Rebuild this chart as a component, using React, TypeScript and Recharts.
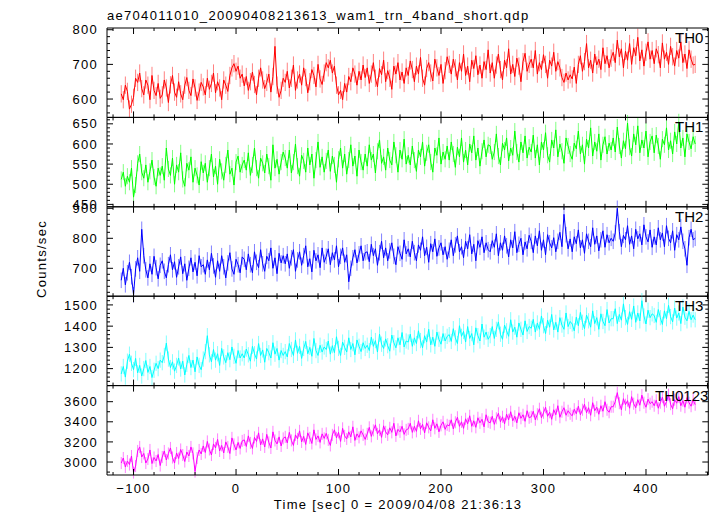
import React from "react";
import { LineChart, Line, XAxis, YAxis, ErrorBar, ReferenceLine } from "recharts";

// light curve bins: start time and bin width (sec)
const T_START = -112;
const BIN = 2;

const th0 = [
  615, 598, 640, 622, 571, 585, 605, 660, 648, 675, 630, 612, 655, 640, 598, 668, 625, 610, 645, 602,
  612, 655, 632, 590, 641, 668, 620, 605, 650, 615, 598, 640, 662, 625, 610, 658, 632, 596, 620, 648,
  635, 612, 660, 628, 645, 675, 618, 650, 632, 598, 655, 640, 622, 668, 690, 702, 680, 695, 660, 672,
  638, 665, 625, 650, 678, 642, 612, 660, 690, 655, 630, 648, 672, 620, 665, 752, 640, 605, 625, 660,
  648, 680, 632, 660, 698, 625, 655, 672, 640, 690, 662, 618, 650, 685, 668, 635, 700, 658, 642, 675,
  705, 690, 712, 675, 695, 640, 612, 625, 598, 645, 620, 665, 650, 690, 672, 640, 680, 655, 698, 662,
  690, 645, 672, 705, 660, 635, 688, 670, 712, 650, 682, 660, 628, 695, 672, 705, 655, 678, 645, 690,
  668, 710, 685, 650, 695, 672, 720, 660, 640, 688, 705, 675, 652, 715, 690, 668, 700, 645, 682, 722,
  700, 672, 715, 690, 655, 705, 680, 730, 668, 695, 650, 712, 688, 725, 670, 698, 660, 708, 685, 742,
  675, 705, 660, 698, 730, 685, 655, 712, 690, 745, 672, 700, 665, 718, 695, 650, 708, 732, 680, 700,
  715, 690, 740, 672, 705, 685, 728, 700, 660, 712, 695, 735, 680, 708, 690, 662, 648, 675, 655, 670,
  658, 692, 645, 700, 725, 680, 708, 760, 690, 712, 675, 730, 698, 715, 685, 748, 702, 725, 690, 718,
  735, 705, 770, 722, 745, 690, 738, 712, 760, 700, 748, 725, 778, 710, 742, 695, 735, 765, 715, 740,
  702, 745, 728, 690, 762, 715, 735, 700, 752, 722, 695, 740, 718, 765, 705, 730, 688, 742, 715, 698,
  700,
];

const th1 = [
  512, 530, 495, 520, 505, 540, 468, 498, 552, 575, 530, 515, 548, 505, 532, 560, 518, 495, 540, 522,
  545, 510, 590, 538, 522, 565, 500, 548, 530, 578, 512, 495, 552, 535, 568, 505, 540, 522, 498, 556,
  528, 552, 505, 540, 575, 518, 545, 500, 562, 532, 510, 548, 585, 525, 540, 498, 555, 570, 530, 548,
  560, 535, 578, 522, 548, 590, 540, 515, 565, 552, 528, 575, 545, 510, 598, 540, 562, 525, 555, 580,
  565, 540, 585, 528, 555, 600, 545, 520, 572, 558, 530, 590, 548, 575, 515, 560, 605, 542, 568, 530,
  558, 585, 532, 570, 548, 505, 562, 590, 540, 575, 525, 560, 598, 545, 570, 520, 585, 555, 535, 575,
  545, 598, 560, 575, 528, 582, 610, 552, 568, 535, 590, 560, 548, 605, 572, 530, 585, 562, 612, 550,
  572, 548, 595, 560, 532, 585, 568, 605, 545, 578, 598, 555, 530, 590, 572, 615, 550, 580, 562, 595,
  560, 605, 575, 542, 592, 568, 615, 555, 585, 548, 600, 578, 620, 560, 590, 545, 582, 610, 568, 598,
  595, 562, 580, 625, 570, 548, 602, 585, 615, 558, 590, 572, 632, 580, 555, 605, 578, 620, 565, 592,
  580, 622, 565, 598, 548, 605, 585, 628, 572, 555, 610, 590, 635, 568, 600, 582, 552, 615, 595, 575,
  562, 602, 588, 632, 575, 598, 550, 612, 590, 640, 570, 605, 582, 625, 560, 598, 618, 575, 602, 585,
  615, 580, 642, 595, 565, 608, 588, 652, 592, 570, 625, 598, 645, 578, 610, 590, 632, 568, 605, 620,
  578, 622, 595, 562, 612, 598, 640, 585, 608, 575, 630, 600, 655, 590, 615, 568, 625, 605, 588, 618,
  600,
];

const th2 = [
  660, 700, 645, 685, 720, 672, 612, 698, 735, 690, 830, 742, 695, 668, 715, 680, 740, 702, 665, 710,
  725, 690, 668, 712, 745, 695, 722, 670, 705, 738, 682, 715, 660, 700, 735, 688, 720, 675, 742, 705,
  712, 680, 728, 695, 750, 708, 670, 725, 690, 742, 705, 668, 718, 752, 698, 680, 730, 712, 685, 738,
  730, 695, 748, 712, 685, 755, 720, 702, 762, 715, 690, 740, 725, 768, 700, 735, 682, 750, 718, 742,
  715, 748, 700, 735, 762, 690, 728, 755, 710, 742, 775, 705, 732, 688, 760, 725, 745, 702, 768, 720,
  740, 765, 712, 752, 728, 775, 705, 740, 768, 720, 745, 655, 700, 735, 762, 718, 748, 775, 725, 752,
  755, 722, 780, 742, 765, 710, 752, 790, 735, 768, 725, 758, 785, 740, 712, 772, 750, 730, 795, 748,
  765, 738, 790, 752, 725, 778, 760, 805, 742, 770, 720, 782, 755, 798, 740, 768, 785, 745, 772, 730,
  760, 795, 742, 778, 808, 755, 772, 735, 790, 765, 812, 748, 780, 725, 792, 770, 805, 752, 785, 762,
  755, 792, 770, 815, 742, 785, 760, 808, 775, 738, 795, 768, 822, 752, 780, 800, 745, 788, 765, 810,
  790, 752, 808, 775, 825, 760, 795, 745, 812, 785, 768, 802, 755, 790, 820, 772, 880, 812, 765, 798,
  755, 805, 782, 828, 768, 795, 750, 815, 790, 772, 835, 780, 808, 758, 795, 825, 770, 812, 785, 800,
  790, 818, 900, 822, 772, 810, 795, 842, 780, 808, 765, 830, 798, 815, 778, 845, 805, 788, 828, 770,
  805, 778, 835, 795, 818, 772, 842, 800, 785, 825, 760, 812, 795, 838, 790, 765, 710, 802, 830, 795,
  800,
];

const th3 = [
  1175, 1210, 1160, 1235, 1268, 1225, 1195, 1248, 1180, 1215, 1165, 1200, 1238, 1182, 1210, 1158, 1192, 1225, 1200, 1240,
  1228, 1262, 1320, 1245, 1205, 1232, 1188, 1215, 1250, 1198, 1235, 1170, 1220, 1262, 1205, 1240, 1185, 1255, 1215, 1195,
  1245, 1280, 1355, 1265, 1232, 1290, 1240, 1270, 1215, 1295, 1255, 1228, 1275, 1242, 1302, 1258, 1225, 1285, 1250, 1270,
  1250, 1292, 1265, 1235, 1305, 1270, 1245, 1318, 1262, 1288, 1230, 1295, 1275, 1250, 1322, 1268, 1295, 1240, 1285, 1262,
  1280, 1255, 1318, 1290, 1262, 1335, 1272, 1305, 1248, 1295, 1328, 1270, 1300, 1258, 1342, 1285, 1262, 1310, 1278, 1302,
  1290, 1330, 1268, 1308, 1275, 1350, 1295, 1262, 1325, 1300, 1278, 1345, 1290, 1318, 1265, 1335, 1305, 1280, 1322, 1295,
  1310, 1285, 1348, 1305, 1332, 1278, 1362, 1315, 1295, 1340, 1308, 1282, 1358, 1322, 1298, 1345, 1312, 1370, 1302, 1330,
  1325, 1362, 1305, 1345, 1318, 1378, 1332, 1298, 1355, 1325, 1385, 1312, 1348, 1305, 1372, 1338, 1315, 1365, 1330, 1352,
  1360, 1328, 1388, 1345, 1318, 1402, 1352, 1375, 1325, 1398, 1342, 1365, 1312, 1392, 1355, 1330, 1410, 1348, 1372, 1338,
  1355, 1398, 1342, 1385, 1420, 1362, 1338, 1405, 1378, 1352, 1430, 1372, 1395, 1348, 1415, 1385, 1358, 1425, 1375, 1398,
  1390, 1432, 1372, 1415, 1385, 1448, 1402, 1365, 1428, 1395, 1455, 1382, 1418, 1372, 1440, 1405, 1385, 1462, 1398, 1422,
  1410, 1378, 1442, 1402, 1465, 1418, 1388, 1452, 1425, 1395, 1472, 1412, 1440, 1385, 1458, 1422, 1402, 1478, 1415, 1435,
  1435, 1482, 1412, 1455, 1428, 1505, 1440, 1408, 1468, 1432, 1495, 1418, 1462, 1425, 1520, 1448, 1410, 1475, 1440, 1458,
  1450, 1418, 1478, 1440, 1408, 1472, 1435, 1498, 1445, 1420, 1485, 1438, 1462, 1412, 1490, 1442, 1425, 1470, 1430, 1452,
  1430,
];

const th0123 = [
  2990, 3040, 2950, 3010, 2975, 3060, 2895, 2960, 3110, 3150, 3050, 3085, 2990, 3030, 3120, 2985, 3045, 3010, 3075, 2965,
  3050, 3110, 3020, 3085, 3140, 3045, 2990, 3090, 3035, 3125, 3070, 3005, 3100, 3060, 3150, 3085, 2905, 3040, 3120, 3080,
  3160, 3095, 3205, 3125, 3070, 3180, 3140, 3225, 3110, 3165, 3090, 3200, 3150, 3085, 3240, 3175, 3120, 3195, 3135, 3210,
  3220, 3155, 3260, 3190, 3135, 3245, 3205, 3290, 3170, 3230, 3150, 3275, 3195, 3140, 3300, 3215, 3180, 3250, 3160, 3235,
  3250, 3190, 3295, 3215, 3165, 3270, 3230, 3310, 3200, 3255, 3175, 3290, 3240, 3185, 3320, 3225, 3260, 3195, 3280, 3235,
  3285, 3220, 3165, 3270, 3320, 3240, 3295, 3205, 3335, 3260, 3230, 3300, 3250, 3350, 3215, 3280, 3245, 3310, 3270, 3225,
  3280, 3345, 3255, 3315, 3370, 3280, 3320, 3245, 3360, 3300, 3270, 3340, 3295, 3385, 3260, 3325, 3300, 3355, 3275, 3320,
  3330, 3385, 3295, 3355, 3305, 3410, 3330, 3375, 3290, 3390, 3345, 3310, 3420, 3335, 3380, 3300, 3365, 3400, 3325, 3370,
  3360, 3420, 3330, 3395, 3445, 3355, 3400, 3335, 3430, 3380, 3460, 3355, 3410, 3345, 3440, 3390, 3425, 3350, 3470, 3400,
  3390, 3455, 3375, 3435, 3485, 3400, 3450, 3380, 3475, 3420, 3500, 3410, 3455, 3390, 3490, 3435, 3470, 3405, 3510, 3440,
  3450, 3505, 3420, 3475, 3530, 3440, 3490, 3545, 3455, 3495, 3425, 3520, 3470, 3560, 3445, 3500, 3540, 3465, 3510, 3480,
  3460, 3525, 3480, 3555, 3470, 3520, 3575, 3490, 3540, 3465, 3590, 3510, 3545, 3475, 3560, 3505, 3600, 3520, 3495, 3550,
  3550, 3600, 3690, 3585, 3520, 3630, 3570, 3610, 3535, 3650, 3580, 3540, 3620, 3565, 3665, 3590, 3545, 3625, 3580, 3600,
  3560, 3615, 3535, 3590, 3645, 3555, 3600, 3670, 3575, 3530, 3620, 3585, 3650, 3560, 3610, 3545, 3640, 3590, 3555, 3620,
  3570,
];

const panelNames = ["TH0", "TH1", "TH2", "TH3", "TH0123"];
const panelSeries = [th0, th1, th2, th3, th0123];
const errSizes = [25, 20, 26, 36, 60];
const lineColors = ["#ff0000", "#00ff00", "#0000ff", "#00ffff", "#ff00ff"];
const barColors = ["#ff8080", "#80ff80", "#8080ff", "#80ffff", "#ff80ff"];

const xMajor = [-100, 0, 100, 200, 300, 400];
const yMajor = [
  [600, 700, 800],
  [450, 500, 550, 600, 650],
  [700, 800, 900],
  [1200, 1300, 1400, 1500],
  [3000, 3200, 3400, 3600],
];
const yMinorStep = [20, 10, 20, 20, 100];
const yDomains: [number, number][] = [
  [547, 805],
  [444, 666],
  [607, 905],
  [1120, 1541],
  [2871, 3760],
];

const W = 717;
const H = 516;
const PLOT_LEFT = 107;
const PLOT_RIGHT = 708.3;
const PLOT_TOP = 28;
const PLOT_BOTTOM = 475;
const PANEL_H = (PLOT_BOTTOM - PLOT_TOP) / 5;
const X_DOMAIN: [number, number] = [-125.9, 460.8];
const XLABEL_H = 30;
const MAJOR_LEN = 6;
const MINOR_LEN = 3;

const FONT = "'Liberation Sans', Arial, Helvetica, sans-serif";
const textStyle = { fontFamily: FONT, fontSize: 13, letterSpacing: 1.3, fill: "#000" };

function stepTicks(lo: number, hi: number, step: number) {
  const out: number[] = [];
  for (let v = Math.ceil(lo / step) * step; v <= hi; v += step) out.push(v);
  return out;
}

const xMinor = stepTicks(X_DOMAIN[0], X_DOMAIN[1], 20);

const fmt = (v: number) => (v < 0 ? "\u2212" + Math.abs(v) : String(v));

// label-only ticks (tickSize/tickMargin 0 → x,y sit on the axis line)
const leftLabel = (props: any) => (
  <text x={props.x - 9} y={props.y} dy={4.6} textAnchor="end" style={textStyle}>
    {fmt(props.payload.value)}
  </text>
);
const bottomLabel = (props: any) => (
  <text x={props.x} y={props.y} dy={17.5} textAnchor="middle" style={textStyle}>
    {fmt(props.payload.value)}
  </text>
);

function Panel({ idx }: { idx: number }) {
  const values = panelSeries[idx];
  const rows = values.map((v, i) => ({ t: T_START + i * BIN, v, err: errSizes[idx] }));
  const last = idx === 4;
  const top = PLOT_TOP + idx * PANEL_H;
  const bottom = top + PANEL_H;
  const dom = yDomains[idx];
  const yMinor = stepTicks(dom[0], dom[1], yMinorStep[idx]);

  // tick lengths in pixels, converted to data units of this panel
  const secPerPx = (X_DOMAIN[1] - X_DOMAIN[0]) / (PLOT_RIGHT - PLOT_LEFT);
  const valPerPx = (dom[1] - dom[0]) / PANEL_H;
  const [x0, x1] = X_DOMAIN;
  const [y0, y1] = dom;

  const refProps = { xAxisId: "x", yAxisId: "y", stroke: "#000", strokeWidth: 1, ifOverflow: "visible" as const };

  const xTickLines = xMinor.flatMap((t) => {
    const dy = (xMajor.includes(t) ? MAJOR_LEN : MINOR_LEN) * valPerPx;
    return [
      <ReferenceLine key={`b${t}`} {...refProps} segment={[{ x: t, y: y0 }, { x: t, y: y0 + dy }]} />,
      <ReferenceLine key={`t${t}`} {...refProps} segment={[{ x: t, y: y1 }, { x: t, y: y1 - dy }]} />,
    ];
  });
  const yTickLines = yMinor.flatMap((v) => {
    const dx = (yMajor[idx].includes(v) ? MAJOR_LEN : MINOR_LEN) * secPerPx;
    return [
      <ReferenceLine key={`l${v}`} {...refProps} segment={[{ x: x0, y: v }, { x: x0 + dx, y: v }]} />,
      <ReferenceLine key={`r${v}`} {...refProps} segment={[{ x: x1, y: v }, { x: x1 - dx, y: v }]} />,
    ];
  });

  return (
    <div style={{ position: "absolute", left: 0, top: 0 }}>
      <LineChart
        width={W}
        height={H}
        data={rows}
        margin={{ top, bottom: H - bottom - (last ? XLABEL_H : 0), left: 0, right: W - PLOT_RIGHT }}
      >
        <XAxis xAxisId="x" dataKey="t" type="number" domain={X_DOMAIN} allowDataOverflow hide />
        {last && (
          <XAxis
            xAxisId="lab"
            orientation="bottom"
            height={XLABEL_H}
            dataKey="t"
            type="number"
            domain={X_DOMAIN}
            allowDataOverflow
            ticks={xMajor}
            interval={0}
            tickSize={0}
            tickMargin={0}
            tickLine={false}
            axisLine={false}
            tick={bottomLabel}
          />
        )}
        <YAxis
          yAxisId="y"
          orientation="left"
          width={PLOT_LEFT}
          dataKey="v"
          type="number"
          domain={dom}
          allowDataOverflow
          ticks={yMajor[idx]}
          interval={0}
          tickSize={0}
          tickMargin={0}
          tickLine={false}
          axisLine={false}
          tick={leftLabel}
        />
        <Line xAxisId="x" yAxisId="y" dataKey="v" stroke="none" dot={false} isAnimationActive={false}>
          <ErrorBar dataKey="err" direction="y" width={0} stroke={barColors[idx]} strokeWidth={1} isAnimationActive={false} />
        </Line>
        <Line
          xAxisId="x"
          yAxisId="y"
          dataKey="v"
          type="linear"
          stroke={lineColors[idx]}
          strokeWidth={1}
          dot={false}
          isAnimationActive={false}
        />
        {/* panel frame */}
        <ReferenceLine {...refProps} x={x0} />
        <ReferenceLine {...refProps} x={x1} />
        <ReferenceLine {...refProps} y={y0} />
        <ReferenceLine {...refProps} y={y1} />
        {xTickLines}
        {yTickLines}
      </LineChart>
    </div>
  );
}

export default function App() {
  return (
    <div style={{ position: "absolute", left: 0, top: 0, width: W, height: H, background: "#fff" }}>
      {[0, 1, 2, 3, 4].map((i) => (
        <Panel key={i} idx={i} />
      ))}
      <svg width={W} height={H} style={{ position: "absolute", left: 0, top: 0, pointerEvents: "none" }}>
        <text x={PLOT_LEFT} y={19.5} style={textStyle}>
          ae704011010_20090408213613_wam1_trn_4band_short.qdp
        </text>
        <text x={398} y={509} textAnchor="middle" style={textStyle}>
          Time [sec] 0 = 2009/04/08 21:36:13
        </text>
        <text x={46} y={259} textAnchor="middle" transform="rotate(-90 46 259)" style={textStyle}>
          Counts/sec
        </text>
        {panelNames.map((name, i) => (
          <text
            key={name}
            x={i === 4 ? 655 : 675}
            y={PLOT_TOP + i * PANEL_H + 15}
            style={{ fontFamily: FONT, fontSize: 15, fill: "#000" }}
          >
            {name}
          </text>
        ))}
      </svg>
    </div>
  );
}
